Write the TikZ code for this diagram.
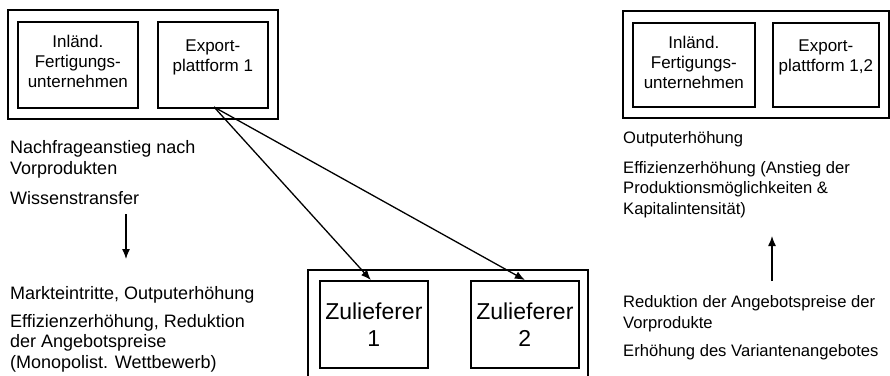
\documentclass[tikz,border=0pt]{standalone}
\usepackage{fontspec}
\setmainfont{Liberation Sans}
\usetikzlibrary{arrows.meta}
\begin{document}
\begin{tikzpicture}[x=1pt,y=-1pt,
  frame/.style={draw,line width=1.7pt},
  unit/.style={draw,line width=1.7pt,minimum width=#1,inner sep=0pt},
  boxtext/.style={align=center,inner sep=0pt,font=\fontsize{17}{20}\selectfont},
  bigtext/.style={align=center,inner sep=0pt,font=\fontsize{23}{27}\selectfont},
  note/.style={align=left,anchor=base west,inner sep=0pt,font=\fontsize{18}{20.5}\selectfont},
  noteR/.style={note,font=\fontsize{16.6}{20.5}\selectfont},
  flow/.style={line width=1.3pt,-{Latex[length=10pt,width=8pt]}}
]
\useasboundingbox (0,0) rectangle (890,375);
\clip (0,0) rectangle (890,375);

% left firm group
\node[frame,minimum width=270pt,minimum height=109pt,anchor=north west,inner sep=0pt] (outerL) at (7,9) {};
\node[unit=120pt,minimum height=86pt,anchor=north west] (firmL) at (17,21) {};
\node[unit=110pt,minimum height=86pt,anchor=north west] (expL) at (157,21) {};
\node[boxtext] (firmLt) at ([yshift=3pt]firmL.center) {Inländ.\\Fertigungs-\\unternehmen};
\node[boxtext] (expLt) at ([yshift=7pt]expL.center) {Export-\\plattform 1};

% right firm group
\node[frame,minimum width=266pt,minimum height=107pt,anchor=north west,inner sep=0pt] (outerR) at (622,10) {};
\node[unit=122pt,minimum height=84pt,anchor=north west] (firmR) at (632,22) {};
\node[unit=106pt,minimum height=84pt,anchor=north west] (expR) at (772,22) {};
\node[boxtext] (firmRt) at ([yshift=2pt]firmR.center) {Inländ.\\Fertigungs-\\unternehmen};
\node[boxtext] (expRt) at ([yshift=7pt]expR.center) {Export-\\plattform 1,2};

% supplier group (frame runs past the lower edge)
\coordinate (supBL) at (308,400);
\coordinate (supBR) at (588,400);
\draw[frame] (supBL) -- (308,270) -- (588,270) -- (supBR);
\node[unit=108pt,minimum height=87pt,anchor=north west,bigtext] (sup1) at (319,280) {Zulieferer\\1};
\node[unit=108pt,minimum height=87pt,anchor=north west,bigtext] (sup2) at (470,280) {Zulieferer\\2};

% demand links from the export platform to the suppliers
\coordinate (expOut) at (214,107);
\draw[flow] (expOut) -- ([xshift=-3pt]sup1.north);
\draw[flow] (expOut) -- (sup2.north);

% left column of effects (anchored on the baseline of each last line)
\node[note] (nL1) at (10,174) {Nachfrageanstieg nach\\Vorprodukten};
\node[note] (nL2) at (10,204) {Wissenstransfer};
\node[note] (nL3) at (10,299) {Markteintritte, Outputerhöhung};
\node[note] (nL4) at (10,368) {Effizienzerhöhung, Reduktion\\der Angebotspreise\\(Monopolist. Wettbewerb)};
\coordinate (dTop) at (126,214);
\coordinate (dBot) at (126,259);
\draw[flow] (dTop) -- (dBot);

% right column of effects
\node[noteR] (nR1) at (623,143) {Outputerhöhung};
\node[noteR] (nR2) at (623,214) {Effizienzerhöhung (Anstieg der\\Produktionsmöglichkeiten \&\\Kapitalintensität)};
\node[noteR] (nR3) at (623,328) {Reduktion der Angebotspreise der\\Vorprodukte};
\node[noteR] (nR4) at (623,356) {Erhöhung des Variantenangebotes};
\coordinate (uBot) at (772,281);
\coordinate (uTop) at (772,236);
\draw[flow] (uBot) -- (uTop);
\end{tikzpicture}
\end{document}
